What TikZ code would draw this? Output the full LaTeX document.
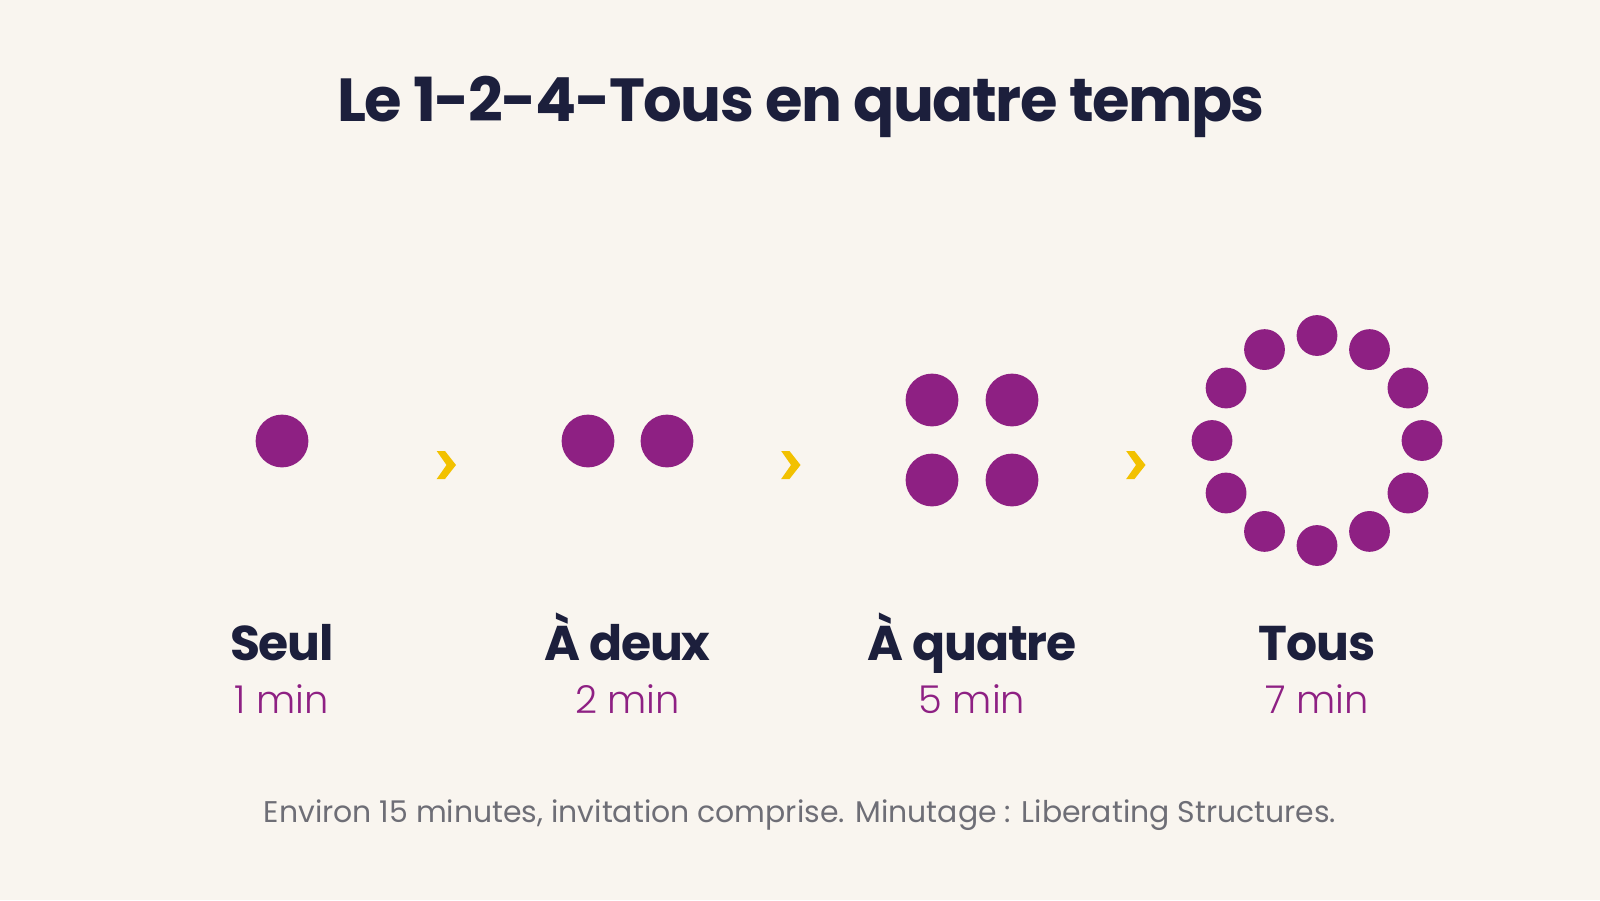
\documentclass[tikz,border=0pt]{standalone}
\usepackage{fontspec}
\setmainfont{Poppins}
\newfontfamily\boldfont{Poppins Bold}[LetterSpace=-2.5]
\newfontfamily\lightfont{Poppins Light}
\usetikzlibrary{positioning,calc}

\definecolor{paper}{HTML}{F9F5EF}
\definecolor{ink}{HTML}{1C1F3C}
\definecolor{plum}{HTML}{8E2083}
\definecolor{amber}{HTML}{F2C100}
\definecolor{slate}{HTML}{6E6E76}

\tikzset{
  dot/.style={circle,fill=plum,inner sep=0pt,minimum size=26.4pt},
  smalldot/.style={circle,fill=plum,inner sep=0pt,minimum size=20.4pt},
  stagename/.style={anchor=base,text=ink,font=\boldfont\fontsize{24.4}{28}\selectfont},
  stagetime/.style={anchor=base,text=plum,font=\lightfont\fontsize{19.2}{23}\selectfont},
}

\begin{document}
\begin{tikzpicture}[x=0.5pt,y=-0.5pt]
    % Draw the background
    \fill[paper] (0,0) rectangle (1600,900);
    \useasboundingbox (0,0) rectangle (1600,900);
    % Title
    \node[anchor=base,text=ink,font=\boldfont\fontsize{30.4}{36}\selectfont] (title) at (801,121.7) {Le 1-2-4-Tous en quatre temps};
    % Draw the dots of each stage
    \node[dot] (seul) at (282,441) {};
    \foreach \x/\n in {588/a, 667/b}{
      \node[dot] (deux\n) at (\x,441) {};
    }
    \foreach \x/\y/\n in {932/400/a, 1012/400/b, 932/480/c, 1012/480/d}{
      \node[dot] (quatre\n) at (\x,\y) {};
    }
    \coordinate (ring) at (1317,440.5);
    \foreach \a in {0,30,...,330}{
      \node[smalldot] (tous\a) at ($(ring)+(\a:105)$) {};
    }
    % Draw the chevrons
    \foreach \x in {446.5, 791, 1136}{
      \fill[amber] (\x-9.8,451) -- (\x-1.5,451) -- (\x+9.5,465) -- (\x-1.5,479)
        -- (\x-9.8,479) -- (\x,465) -- cycle;
    }
    % Labels and durations
    \foreach \x/\name/\time/\n in {282/Seul/1 min/a, 627.5/À deux/2 min/b, 972/À quatre/5 min/c, 1317/Tous/7 min/d}{
      \node[stagename] (name\n) at (\x,660) {\name};
      \node[stagetime] (time\n) at (\x,713) {\time};
    }
    % Footer
    \node[anchor=base,text=slate,font=\fontsize{14.95}{18}\selectfont] (note) at (800,822) {Environ 15 minutes, invitation comprise. Minutage : Liberating Structures.};
\end{tikzpicture}
\end{document}
